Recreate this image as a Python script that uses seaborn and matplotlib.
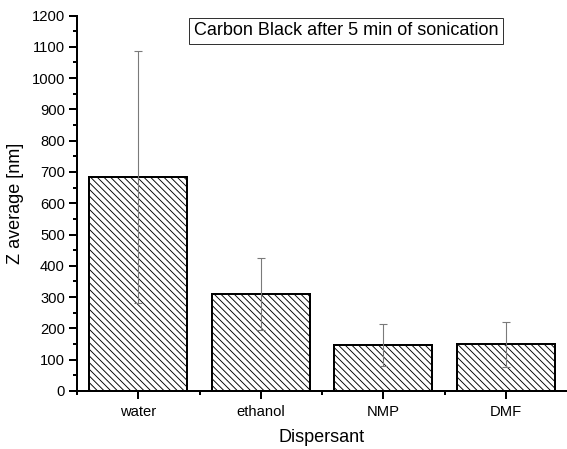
import matplotlib
matplotlib.use("Agg")
import matplotlib.pyplot as plt
from matplotlib.ticker import MultipleLocator, FixedLocator
import seaborn as sns
import pandas as pd

# Z-average particle size of carbon black per dispersant
dispersants = ["water", "ethanol", "NMP", "DMF"]
z_average = [685, 310, 148, 150]
z_error = [403, 115, 67, 72]

DPI = 60
PX = 72.0 / DPI  # points per pixel

sns.set_theme(style="ticks")
plt.rcParams["font.family"] = ["Liberation Sans", "DejaVu Sans"]
plt.rcParams["hatch.linewidth"] = 0.9 * PX
plt.rcParams["hatch.color"] = "#222222"

fig = plt.figure(figsize=(567 / DPI, 449 / DPI), dpi=DPI)
ax = fig.add_axes([77 / 567, 58 / 449, 490 / 567, 375.5 / 449])

df = pd.DataFrame({"Dispersant": dispersants, "Z": z_average})
sns.barplot(data=df, x="Dispersant", y="Z", ax=ax, color="white",
            edgecolor="black", linewidth=2 * PX, width=0.8, errorbar=None,
            saturation=1)
for p in ax.patches:
    p.set_hatch("\\\\\\")
    p.set_facecolor("white")

xs = [p.get_x() + p.get_width() / 2 for p in ax.patches]
ax.errorbar(xs, z_average, yerr=z_error, fmt="none", ecolor="#7a7a7a",
            elinewidth=1.1 * PX, capsize=4 * PX, capthick=1.1 * PX, zorder=3)

ax.set_xlim(-0.5, 3.5)
ax.set_ylim(0, 1200)
ax.yaxis.set_major_locator(MultipleLocator(100))
ax.yaxis.set_minor_locator(MultipleLocator(50))
ax.xaxis.set_minor_locator(FixedLocator([-0.5, 0.5, 1.5, 2.5]))

for s in ("top", "right"):
    ax.spines[s].set_visible(False)
for s in ("left", "bottom"):
    ax.spines[s].set_linewidth(2 * PX)
    ax.spines[s].set_color("black")

ax.tick_params(axis="both", which="major", direction="out", length=8 * PX,
               width=2 * PX, color="black", labelsize=14.8 * PX, pad=4 * PX,
               labelcolor="black")
ax.tick_params(axis="both", which="minor", direction="out", length=4.5 * PX,
               width=2 * PX, color="black")
ax.tick_params(axis="x", which="major", pad=6 * PX)

ax.set_xlabel("Dispersant", fontsize=18 * PX, labelpad=10 * PX, color="black")
ax.set_ylabel("Z average [nm]", fontsize=18 * PX, labelpad=8 * PX, color="black")

ax.text(0.549, 0.959, "Carbon Black after 5 min of sonication",
        transform=ax.transAxes, ha="center", va="center", fontsize=18 * PX,
        color="black",
        bbox=dict(boxstyle="square,pad=0.25", facecolor="white",
                  edgecolor="#333333", linewidth=1 * PX))

ax.set_facecolor("white")
fig.patch.set_facecolor("white")
fig.savefig("out.png", dpi=DPI)
